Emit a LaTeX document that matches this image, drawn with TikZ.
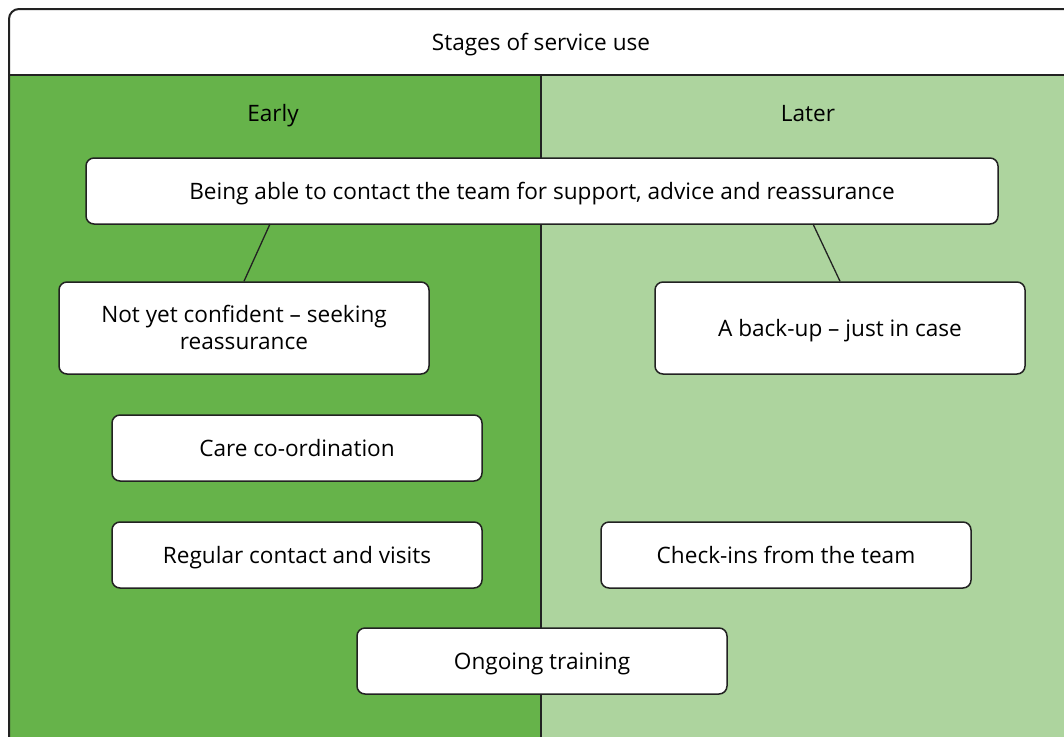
\documentclass[tikz,border=0pt]{standalone}
\usepackage{fontspec}
\setmainfont{Open Sans}
\definecolor{darkgr}{HTML}{66B34A}
\definecolor{lightgr}{HTML}{ADD49E}
\definecolor{edge}{HTML}{222222}
\begin{document}
\begin{tikzpicture}[x=1pt,y=-1pt,
  box/.style={draw=edge,line width=1.5pt,fill=white,rounded corners=8pt,inner sep=0pt,align=center,font=\fontsize{22.6}{27}\selectfont,text height=18pt,text depth=2pt},
  lbl/.style={font=\fontsize{22.6}{27}\selectfont,inner sep=0pt,text height=18pt,text depth=2pt},
  conn/.style={draw=edge,line width=1.3pt}]
\useasboundingbox (0,0) rectangle (1064,736);
\clip (0,0) rectangle (1064,736);
% column fills
\fill[darkgr] (9,75) rectangle (541,760);
\fill[lightgr] (541,75) rectangle (1080,760);
\fill[white,rounded corners=8pt] (9,9) rectangle (1080,75);
\fill[white] (9,40) rectangle (1080,75);
\draw[edge,line width=1.8pt] (9,75) -- (1080,75);
\draw[edge,line width=1.3pt] (541,75) -- (541,760);
\draw[edge,line width=2pt,rounded corners=10pt] (9,760) -- (9,9) -- (1080,9);
% header and column labels
\node[lbl] (title) at (541,42) {Stages of service use};
\node[lbl] (early) at (273,113) {Early};
\node[lbl] (later) at (808,113) {Later};
% boxes
\node[box,minimum width=912pt,minimum height=66pt] (contact) at (542,191) {Being able to contact the team for support, advice and reassurance};
\node[box,minimum width=370pt,minimum height=92pt,text height=44pt,text depth=2pt] (conf) at (244,328) {Not yet confident -- seeking\\reassurance};
\node[box,minimum width=370pt,minimum height=92pt] (backup) at (840,328) {A back-up -- just in case};
\node[box,minimum width=370pt,minimum height=66pt] (care) at (297,448) {Care co-ordination};
\node[box,minimum width=370pt,minimum height=66pt] (regular) at (297,555) {Regular contact and visits};
\node[box,minimum width=370pt,minimum height=66pt] (check) at (786,555) {Check-ins from the team};
\node[box,minimum width=370pt,minimum height=66pt] (train) at (542,661) {Ongoing training};
% connectors
\coordinate (c1) at (270,224);
\coordinate (c2) at (813,224);
\draw[conn] (c1) -- (conf.north);
\draw[conn] (c2) -- (backup.north);
\end{tikzpicture}
\end{document}
